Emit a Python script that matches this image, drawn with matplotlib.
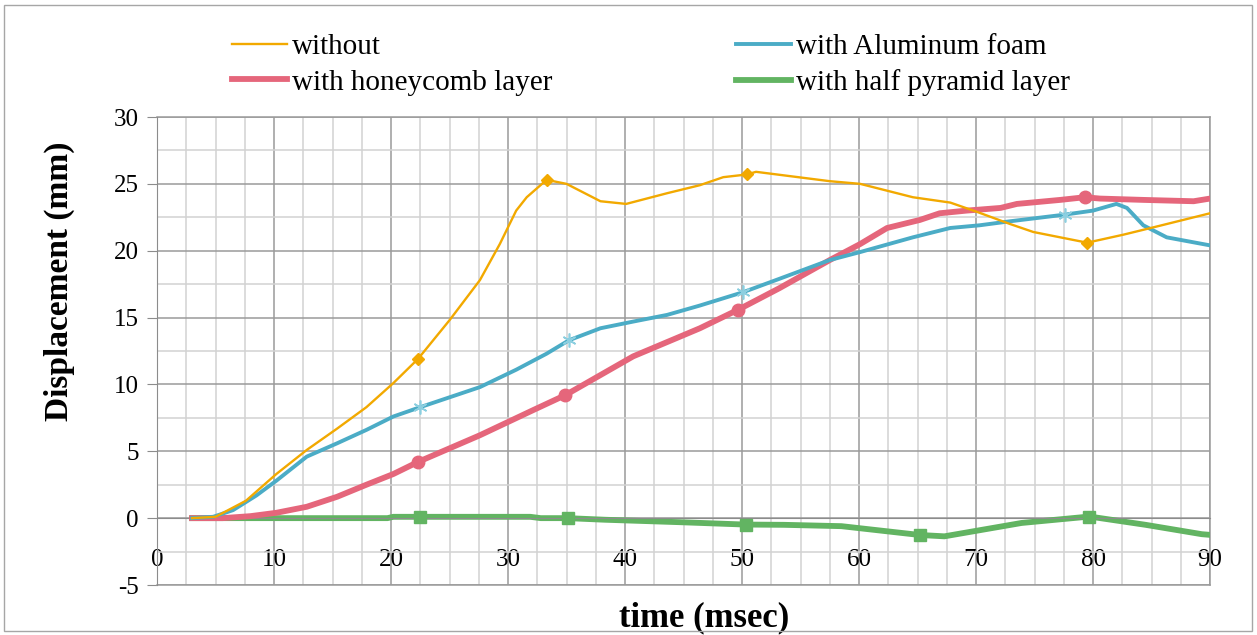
import matplotlib
import numpy as np

matplotlib.use("Agg")
import matplotlib.pyplot as plt
from matplotlib.patches import Rectangle
from matplotlib.ticker import MultipleLocator

plt.rcParams['font.family'] = ['Liberation Serif', 'DejaVu Serif']
plt.rcParams['axes.unicode_minus'] = False

# Series (time in msec, displacement in mm)
t_without = [3, 5, 7.6, 10.2, 12.8, 15.4, 17.9, 20.2, 22.3, 25.0, 27.6, 29.3, 30.7,
             31.6, 33.3, 35.0, 37.9, 40.1, 43.6, 46.4, 48.4, 50.4, 51.2, 57.5, 60.1,
             64.6, 67.8, 70.1, 72.9, 74.9, 79.5, 82.6, 85.4, 90]
d_without = [0, 0.1, 1.3, 3.3, 5.1, 6.7, 8.3, 10.1, 11.9, 14.8, 17.8, 20.5, 23.0,
             24.0, 25.3, 25.0, 23.7, 23.5, 24.3, 24.9, 25.5, 25.7, 25.9, 25.2, 25.0,
             24.0, 23.6, 22.9, 22.0, 21.4, 20.6, 21.2, 21.8, 22.8]
mk_t_without = [22.3, 33.3, 50.4, 79.5]
mk_d_without = [11.9, 25.3, 25.7, 20.6]

t_foam = [3, 4.8, 6.5, 8.5, 10.2, 12.8, 15.4, 17.9, 20.2, 22.5, 27.6, 30.7, 33.3,
          35.2, 37.9, 40.7, 43.6, 46.4, 50.1, 53.2, 57.5, 60.1, 64.6, 67.8, 70.3,
          72.9, 77.6, 80.0, 82.0, 82.9, 84.3, 86.3, 90]
d_foam = [0, 0.1, 0.6, 1.7, 2.8, 4.6, 5.6, 6.6, 7.6, 8.3, 9.8, 11.1, 12.3,
          13.3, 14.2, 14.7, 15.2, 15.9, 16.9, 17.9, 19.3, 19.9, 21.0, 21.7, 21.9,
          22.2, 22.7, 23.0, 23.5, 23.2, 21.9, 21.0, 20.4]
mk_t_foam = [22.5, 35.2, 50.1, 77.6]
mk_d_foam = [8.3, 13.3, 16.9, 22.7]

t_honey = [3, 5.6, 8, 10.2, 12.8, 15.4, 17.9, 20.2, 22.3, 27.6, 32.2, 34.9, 40.7,
           46.4, 49.7, 53.2, 57.5, 60.1, 62.4, 65.2, 66.9, 69.2, 72.1, 73.5, 77.2,
           79.3, 80.6, 84.3, 88.6, 90]
d_honey = [0, 0, 0.15, 0.4, 0.85, 1.6, 2.5, 3.3, 4.2, 6.2, 8.1, 9.2, 12.1,
           14.2, 15.6, 17.2, 19.3, 20.5, 21.7, 22.3, 22.8, 23.0, 23.2, 23.5, 23.8,
           24.0, 23.9, 23.8, 23.7, 23.9]
mk_t_honey = [22.3, 34.9, 49.7, 79.3]
mk_d_honey = [4.2, 9.2, 15.6, 24.0]

t_pyr = [3, 19.7, 20.2, 22.5, 31.9, 32.8, 35.1, 38.3, 44.6, 50.3, 53.6, 58.5,
         65.2, 67.3, 73.9, 79.7, 84.5, 89.3, 90]
d_pyr = [0, 0, 0.1, 0.1, 0.1, 0, 0, -0.12, -0.3, -0.48, -0.5, -0.6,
         -1.26, -1.36, -0.36, 0.12, -0.5, -1.2, -1.25]
mk_t_pyr = [22.5, 35.1, 50.3, 65.2, 79.7]
mk_d_pyr = [0.1, 0, -0.48, -1.26, 0.12]

labels = ['without', 'with Aluminum foam', 'with honeycomb layer',
          'with half pyramid layer']
x_ticks = [0, 10, 20, 30, 40, 50, 60, 70, 80, 90]
y_ticks = [-5, 0, 5, 10, 15, 20, 25, 30]

c_orange = '#F2A900'
c_blue = '#4BACC6'
c_red = '#E5667B'
c_green = '#62B462'

fig = plt.figure(figsize=(12.57, 6.35), dpi=100)
ax = fig.add_axes([157 / 1257, 50 / 635, (1210 - 157) / 1257, (585 - 117) / 635])

# Lines (legend uses these, no markers)
l1, = ax.plot(t_without, d_without, color=c_orange, lw=1.7, zorder=5)
l2, = ax.plot(t_foam, d_foam, color=c_blue, lw=2.8, zorder=4)
l3, = ax.plot(t_honey, d_honey, color=c_red, lw=4.2, zorder=3)
l4, = ax.plot(t_pyr, d_pyr, color=c_green, lw=4.2, zorder=2)

# Markers
ax.plot(mk_t_without, mk_d_without, ls='none', marker='D', ms=6, color=c_orange, zorder=6)
ax.plot(mk_t_foam, mk_d_foam, ls='none', marker=(6, 2, 0), ms=10, mew=1.2,
        color='#8CCFE0', zorder=6)
ax.plot(mk_t_honey, mk_d_honey, ls='none', marker='o', ms=9, color=c_red, zorder=6)
ax.plot(mk_t_pyr, mk_d_pyr, ls='none', marker='s', ms=8, color=c_green, zorder=6)

ax.set_xlim(0, 90)
ax.set_ylim(-5, 30)
ax.set_xticks(x_ticks)
ax.set_yticks(y_ticks)
ax.xaxis.set_minor_locator(MultipleLocator(2.5))
ax.yaxis.set_minor_locator(MultipleLocator(2.5))

ax.grid(which='major', color='#9A9A9A', lw=1.1)
ax.grid(which='minor', color='#D2D2D2', lw=1.1)
ax.set_axisbelow(True)

for s in ['top', 'right']:
    ax.spines[s].set_visible(False)
ax.spines['left'].set_color('#8C8C8C')
ax.spines['bottom'].set_color('#8C8C8C')
ax.spines['bottom'].set_position(('data', 0))
# edges of the plot area
ax.axhline(-5, color='#9A9A9A', lw=1.1, clip_on=False, zorder=1)
ax.axhline(30, color='#9A9A9A', lw=1.1, clip_on=False, zorder=1)
ax.axvline(90, color='#9A9A9A', lw=1.1, clip_on=False, zorder=1)

ax.tick_params(axis='y', which='major', length=7, color='#8C8C8C', labelsize=18, pad=6)
ax.tick_params(axis='x', which='major', length=0, labelsize=18, pad=22)
ax.tick_params(which='minor', length=0)

ax.set_xlabel('time (msec)', fontsize=25, fontweight='bold')
ax.set_ylabel('Displacement (mm)', fontsize=24, fontweight='bold')
ax.xaxis.set_label_coords(0.52, -0.035)
ax.yaxis.set_label_coords(-0.078, 0.65)

ax.legend([l1, l3, l2, l4], [labels[0], labels[2], labels[1], labels[3]],
          ncol=2, frameon=False, fontsize=21, loc='upper left',
          bbox_to_anchor=(232 / 1257, 1 - 34 / 635), bbox_transform=fig.transFigure,
          borderpad=0, borderaxespad=0, handlelength=1.9, handletextpad=0.15,
          labelspacing=0.3, columnspacing=6.3)

# outer border of the chart
fig.patches.append(Rectangle((4 / 1257, 4 / 635), 1 - 9 / 1257, 1 - 9 / 635,
                             transform=fig.transFigure, fill=False,
                             edgecolor='#A6A6A6', lw=1.0))

fig.savefig('out.png', dpi=100)
plt.close(fig)
